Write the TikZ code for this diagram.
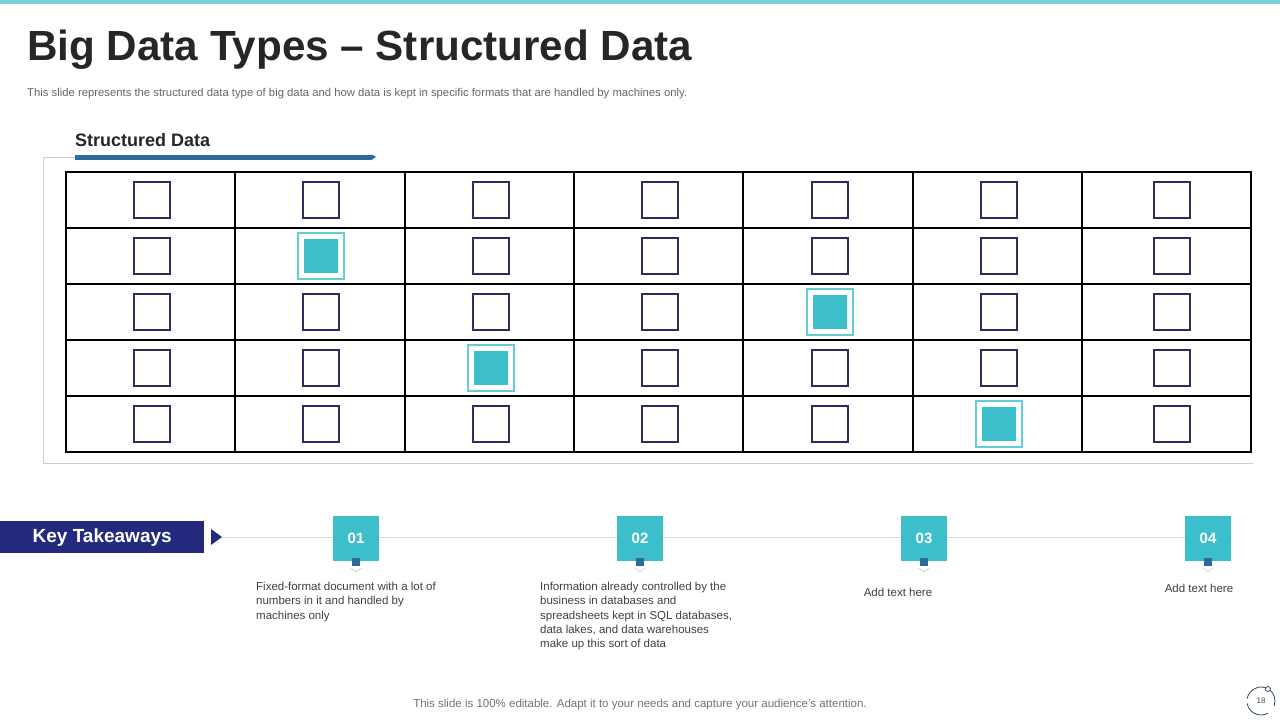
\documentclass[tikz,border=0pt]{standalone}
\usepackage{fontspec}
\setmainfont{Liberation Sans}
\definecolor{teal}{HTML}{3CBFCB}
\definecolor{navy}{HTML}{232A7E}
\definecolor{sq}{HTML}{2B2D5E}
\definecolor{bar}{HTML}{2F6A9C}
\definecolor{txt}{HTML}{404040}
\begin{document}
\begin{tikzpicture}[x=1pt,y=-1pt,
  cell/.style={minimum width=36pt,minimum height=36pt,draw=sq,line width=2pt,inner sep=0pt},
  hcell/.style={minimum width=46pt,minimum height=46pt,draw=teal!80,line width=2pt,inner sep=0pt,
     path picture={\fill[teal] ([shift={(6pt,6pt)}]path picture bounding box.south west) rectangle ([shift={(-6pt,-6pt)}]path picture bounding box.north east);}},
  numbox/.style={fill=teal,text=white,font=\bfseries\fontsize{15}{15}\selectfont,minimum width=46pt,minimum height=45pt,inner sep=0pt},
  body/.style={font=\fontsize{11.5}{14.3}\selectfont,text=txt,align=left,anchor=north west,inner sep=0pt}]
\useasboundingbox (0,0) rectangle (1280,720);
\fill[white] (0,0) rectangle (1280,720);
\fill[teal!70] (0,0) rectangle (1280,4);
\node[anchor=west,inner sep=0pt,font=\bfseries\fontsize{42.2}{43}\selectfont,text=black!85] (title) at (27,50) {Big Data Types – Structured Data};
\node[anchor=west,inner sep=0pt,font=\fontsize{11.3}{12}\selectfont,text=black!60] (sub) at (27,94) {This slide represents the structured data type of big data and how data is kept in specific formats that are handled by machines only.};
\node[anchor=west,inner sep=0pt,font=\bfseries\fontsize{18}{18}\selectfont,text=black!85] (sd) at (75,140) {Structured Data};
\draw[black!20,line width=0.8pt] (75,157) -- (43,157) -- (43,463) -- (1253,463);
\draw[bar,line width=5pt] (75,157) -- (372,157);
\fill[bar] (372,154.5) -- (376,157) -- (372,159.5) -- cycle;
% grid
\foreach \x in {66,235,405,574,743,913,1082,1251} \draw[black,line width=2pt] (\x,172) -- (\x,452);
\foreach \y in {172,228,284,340,396,452} \draw[black,line width=2pt] (65,\y) -- (1252,\y);
\foreach \c/\cx in {1/151.5,2/320.5,3/490.5,4/659.5,5/829.5,6/998.5,8/1171.5}{
  \foreach \r in {1,...,5}{
    \pgfmathsetmacro{\cy}{200+(\r-1)*56}
    \pgfmathtruncatemacro{\k}{\c*10+\r}
    \ifnum\k=22 \node[hcell] (c\c r\r) at (\cx,\cy) {};
    \else\ifnum\k=53 \node[hcell] (c\c r\r) at (\cx,\cy) {};
    \else\ifnum\k=34 \node[hcell] (c\c r\r) at (\cx,\cy) {};
    \else\ifnum\k=65 \node[hcell] (c\c r\r) at (\cx,\cy) {};
    \else \node[cell] (c\c r\r) at (\cx,\cy) {};
    \fi\fi\fi\fi
  }}
% takeaways
\node[fill=navy,text=white,font=\bfseries\fontsize{19}{19}\selectfont,minimum width=204pt,minimum height=32pt,inner sep=0pt,anchor=north west] (kt) at (0,521) {Key Takeaways};
\fill[navy] (211,529) -- (222,537) -- (211,545) -- cycle;
\coordinate (ls) at (222,537);
\coordinate (le) at (1232,537);
\draw[black!15,line width=1pt] (ls) -- (le);
\foreach \n/\x in {01/356,02/640,03/924,04/1208}{
  \node[numbox] (n\n) at (\x,538.5) {\n};
  \fill[bar] (\x-4,558) rectangle (\x+4,566);
  \draw[black!25,line width=0.5pt] (\x-5,568) -- (\x,572) -- (\x+5,568);
}
\node[body] (t1) at (256,582) {Fixed-format document with a lot of\\numbers in it and handled by\\machines only};
\node[body] (t2) at (540,582) {Information already controlled by the\\business in databases and\\spreadsheets kept in SQL databases,\\data lakes, and data warehouses\\make up this sort of data};
\node[font=\fontsize{11.5}{13}\selectfont,text=txt,inner sep=0pt] (t3) at (898,592) {Add text here};
\node[font=\fontsize{11.5}{13}\selectfont,text=txt,inner sep=0pt] (t4) at (1199,588) {Add text here};
\node[font=\fontsize{11.5}{13}\selectfont,text=black!55,inner sep=0pt] (foot) at (640,705) {This slide is 100\% editable. Adapt it to your needs and capture your audience's attention.};
\node[font=\fontsize{8}{8}\selectfont,text=black!70,inner sep=0pt] (pg) at (1261,701) {18};
\draw[bar!70!black,line width=0.8pt] (1261,701) ++(60:14) arc (60:170:14);
\draw[bar!70!black,line width=0.8pt] (1261,701) ++(190:14) arc (190:380:14);
\draw[bar!70!black,line width=0.8pt,fill=white] (1268,689) circle (2.5);
\end{tikzpicture}
\end{document}
